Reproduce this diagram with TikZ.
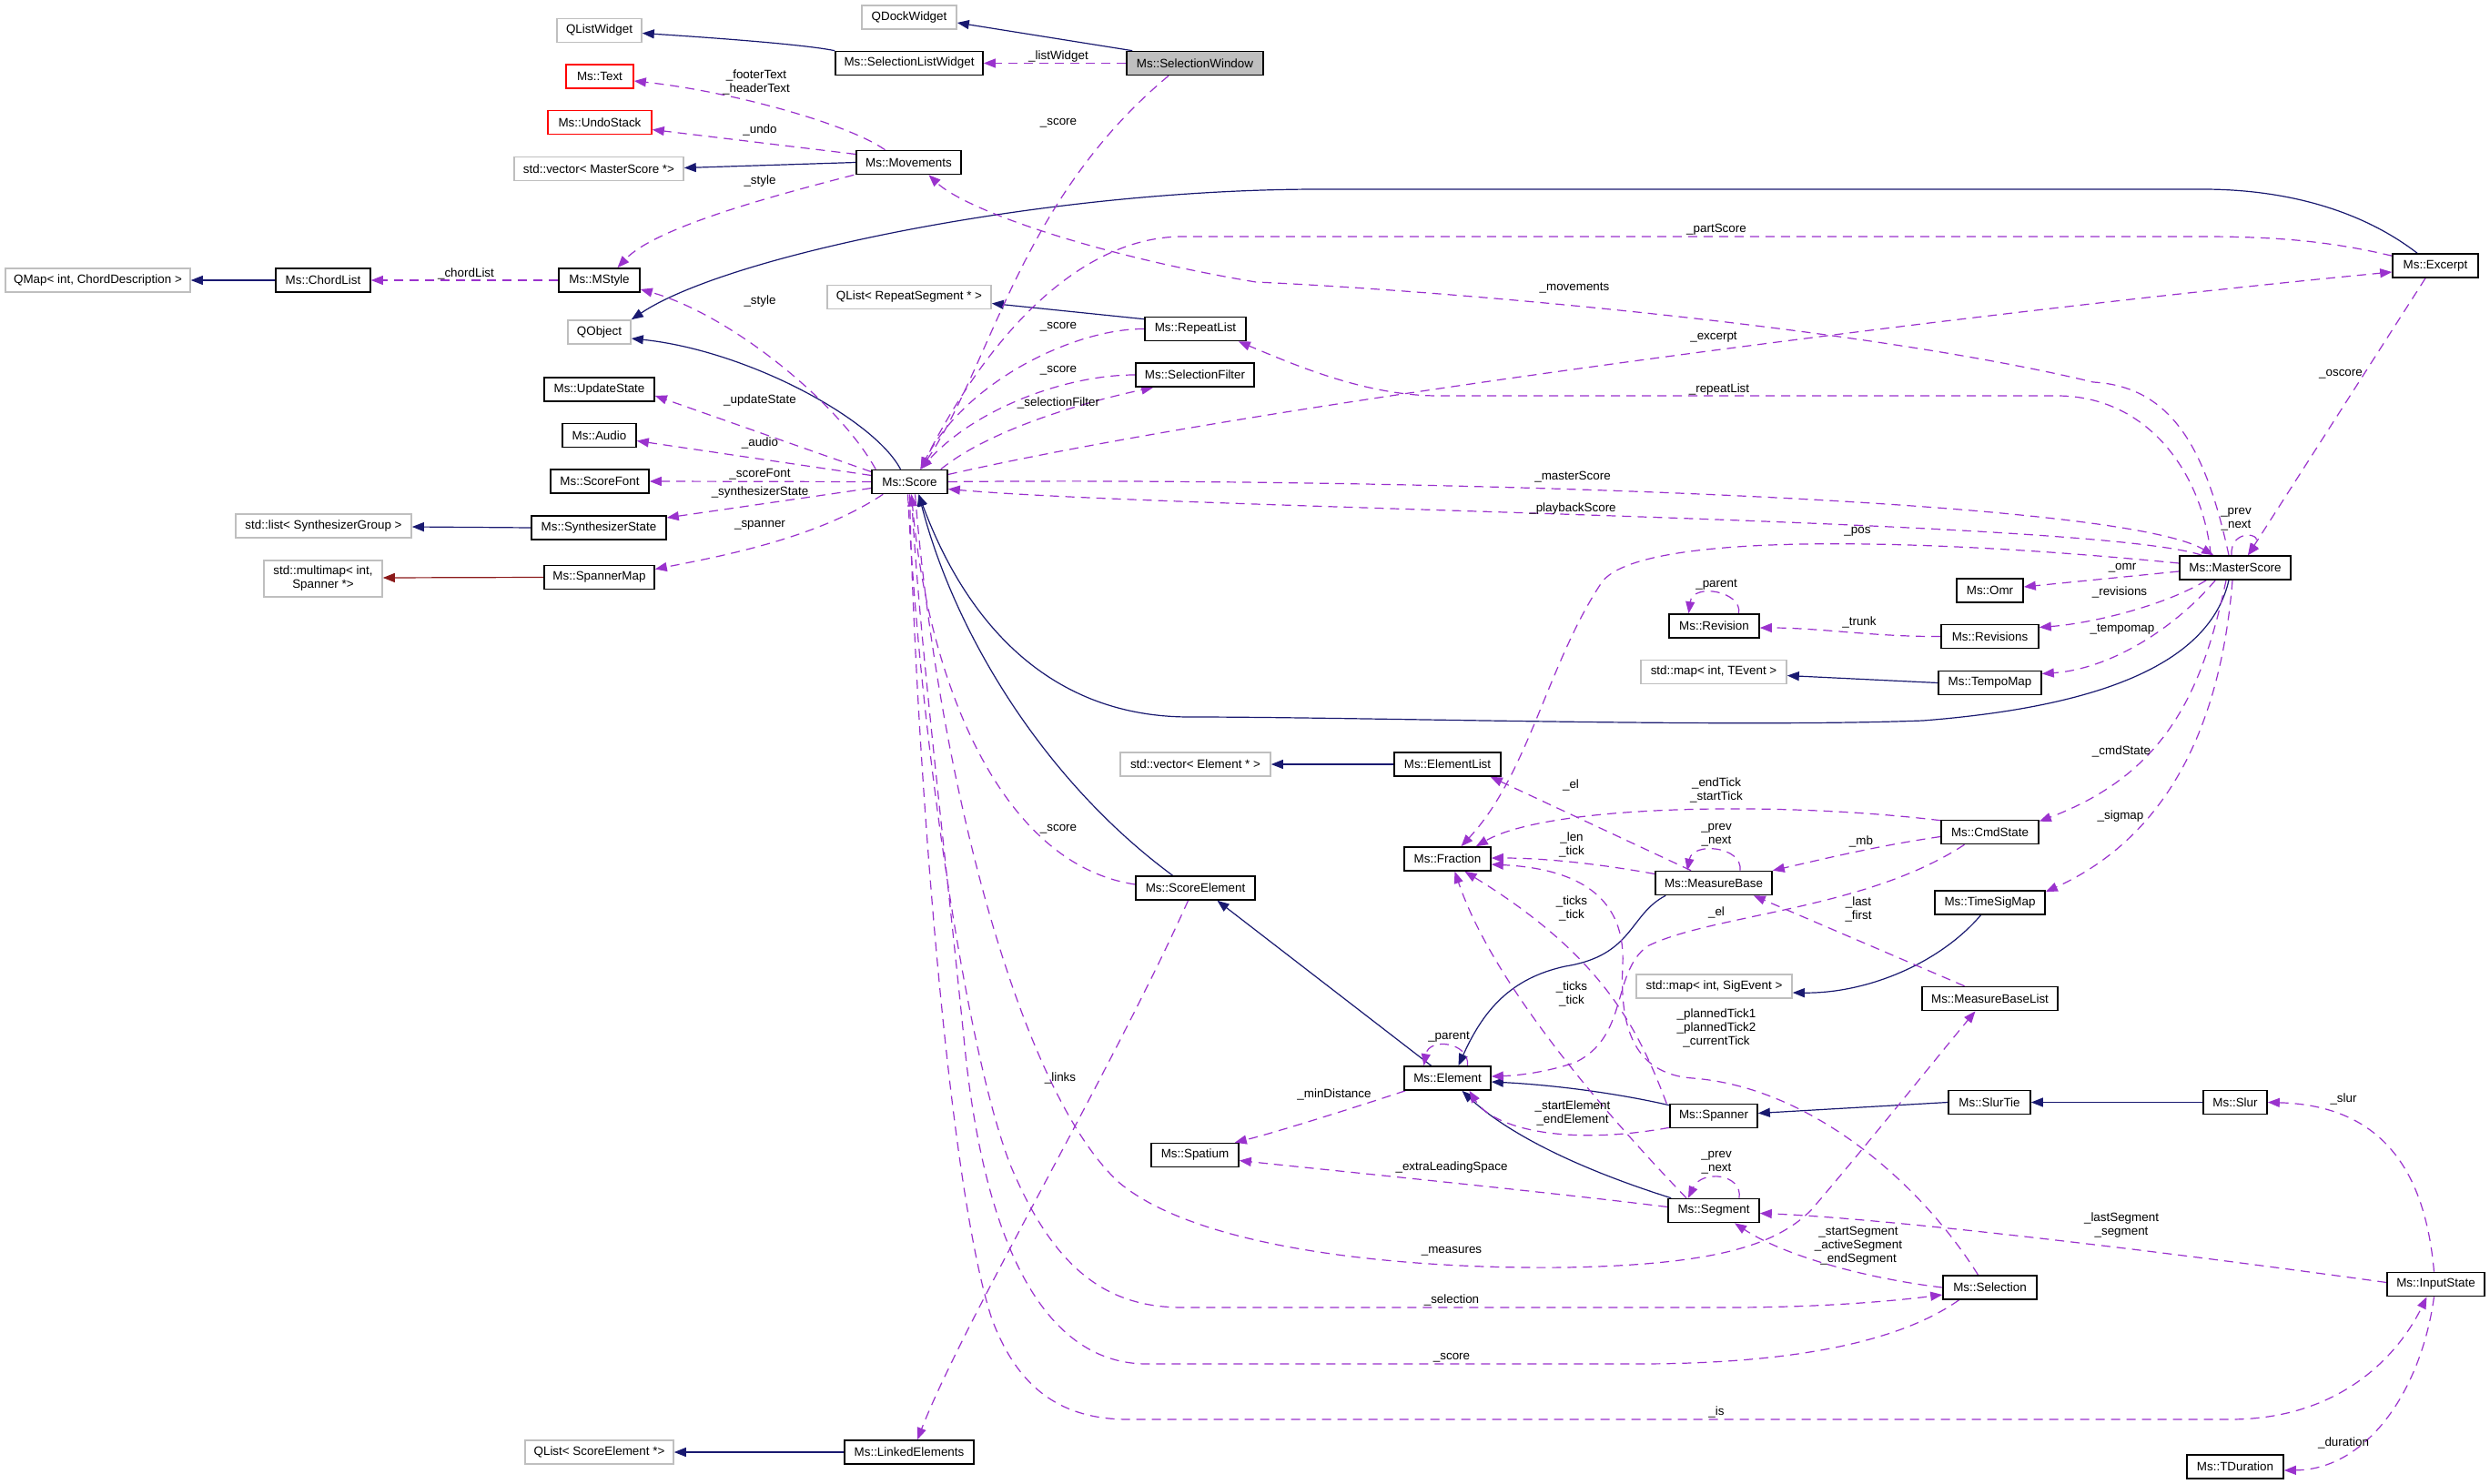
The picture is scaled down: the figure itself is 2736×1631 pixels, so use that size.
\documentclass[tikz,border=0pt]{standalone}
\usepackage{fontspec}
\newfontfamily\dxfam{Liberation Sans}
\newcommand\dxfont{\dxfam\fontsize{6.7}{7.5}\selectfont}
\usetikzlibrary{arrows.meta,calc}
\pgfdeclarelayer{bg}
\pgfsetlayers{bg,main}
\definecolor{inhcol}{HTML}{191970}
\definecolor{usecol}{HTML}{9A32CD}
\definecolor{tmplcol}{HTML}{8B1A1A}
\definecolor{boxgray}{HTML}{BFBFBF}
\definecolor{curgray}{HTML}{BFBFBF}
\begin{document}
\begin{tikzpicture}[x=0.5pt,y=-0.5pt,
  box/.style={draw=black, line width=0.8pt, fill=white, minimum height=13pt, inner sep=0pt, align=center, font=\dxfont},
  ext/.style={box, draw=boxgray},
  redbox/.style={box, draw=red},
  cur/.style={box, fill=curgray},
  inh/.style={draw=inhcol, line width=0.6pt, -{Triangle[length=6.5pt,width=5pt]}},
  tmpl/.style={draw=tmplcol, line width=0.6pt, -{Triangle[length=6.5pt,width=5pt]}},
  use/.style={draw=usecol, line width=0.6pt, dash pattern=on 5pt off 3.5pt, -{Triangle[length=6.5pt,width=5pt]}},
  lbl/.style={font=\dxfont, inner sep=0pt, align=center}]
\path[use as bounding box] (0,0) rectangle (2736,1631);
% ---------------- nodes
\node[ext, minimum width=52pt] (qdock) at (999,19) {QDockWidget};
\node[ext, minimum width=46.5pt] (qlist) at (658.5,33.5) {QListWidget};
\node[box, minimum width=81pt] (slw) at (999,69.5) {Ms::SelectionListWidget};
\node[cur, minimum width=75pt] (selwin) at (1313,69.5) {Ms::SelectionWindow};
\node[redbox, minimum width=37pt] (text) at (659,84) {Ms::Text};
\node[redbox, minimum width=57pt] (undo) at (659,134.5) {Ms::UndoStack};
\node[ext, minimum width=93pt] (vecms) at (658,185.5) {std::vector< MasterScore *>};
\node[box, minimum width=57.5pt] (mov) at (998.5,178.5) {Ms::Movements};
\node[box, minimum width=44.5pt] (mstyle) at (658.5,308) {Ms::MStyle};
\node[box, minimum width=52pt] (chord) at (355,308) {Ms::ChordList};
\node[ext, minimum width=101.5pt] (qmap) at (107.5,308) {QMap< int, ChordDescription >};
\node[ext, minimum width=34.5pt] (qobj) at (658.5,365) {QObject};
\node[ext, minimum width=90pt] (qlrs) at (999,326.5) {QList< RepeatSegment * >};
\node[box, minimum width=55.5pt] (rep) at (1313.5,361.5) {Ms::RepeatList};
\node[box, minimum width=65pt] (sf) at (1313,412) {Ms::SelectionFilter};
\node[box, minimum width=41.5pt] (score) at (999.5,529.5) {Ms::Score};
\node[box, minimum width=60.5pt] (upd) at (658.5,428) {Ms::UpdateState};
\node[box, minimum width=40.5pt] (audio) at (658.5,478.5) {Ms::Audio};
\node[box, minimum width=54pt] (sfont) at (659,529) {Ms::ScoreFont};
\node[box, minimum width=74pt] (synth) at (658,580) {Ms::SynthesizerState};
\node[ext, minimum width=96.5pt] (lsg) at (355.5,578) {std::list< SynthesizerGroup >};
\node[box, minimum width=60.5pt] (spmap) at (658.5,634.5) {Ms::SpannerMap};
\node[ext, minimum width=65pt, minimum height=20pt] (mmap) at (355,636) {std::multimap< int,\\Spanner *>};
\node[box, minimum width=47pt] (excerpt) at (2676,292) {Ms::Excerpt};
\node[box, minimum width=61pt] (master) at (2456,624) {Ms::MasterScore};
\node[box, minimum width=36.5pt] (omr) at (2186.5,649) {Ms::Omr};
\node[box, minimum width=53.5pt] (revs) at (2186.5,699.5) {Ms::Revisions};
\node[box, minimum width=49.5pt] (rev) at (1883.5,688) {Ms::Revision};
\node[box, minimum width=56.5pt] (tmap) at (2186.5,750.5) {Ms::TempoMap};
\node[ext, minimum width=80pt] (mte) at (1883,738.5) {std::map< int, TEvent >};
\node[ext, minimum width=82.5pt] (vel) at (1313.5,840) {std::vector< Element * >};
\node[box, minimum width=58.5pt] (elist) at (1590.5,840) {Ms::ElementList};
\node[box, minimum width=47.5pt] (frac) at (1590.5,944) {Ms::Fraction};
\node[box, minimum width=64pt] (mb) at (1883,970.5) {Ms::MeasureBase};
\node[box, minimum width=65.5pt] (se) at (1313.5,976) {Ms::ScoreElement};
\node[box, minimum width=53.5pt] (cmd) at (2186.5,914.5) {Ms::CmdState};
\node[box, minimum width=60.5pt] (tsm) at (2186.5,992) {Ms::TimeSigMap};
\node[ext, minimum width=85.5pt] (mse) at (1883.5,1084) {std::map< int, SigEvent >};
\node[box, minimum width=74.5pt] (mbl) at (2186.5,1097.5) {Ms::MeasureBaseList};
\node[box, minimum width=47.5pt] (elem) at (1590.5,1185) {Ms::Element};
\node[box, minimum width=48pt] (spanner) at (1883,1226.5) {Ms::Spanner};
\node[box, minimum width=45pt] (slurtie) at (2186,1211.5) {Ms::SlurTie};
\node[box, minimum width=35pt] (slur) at (2456,1211.5) {Ms::Slur};
\node[box, minimum width=48pt] (spatium) at (1313,1269.5) {Ms::Spatium};
\node[box, minimum width=50pt] (seg) at (1883,1330.5) {Ms::Segment};
\node[box, minimum width=51.5pt] (selection) at (2186.5,1415) {Ms::Selection};
\node[box, minimum width=53.5pt] (input) at (2676.5,1411.5) {Ms::InputState};
\node[box, minimum width=53pt] (tdur) at (2456,1612) {Ms::TDuration};
\node[ext, minimum width=81.5pt] (qlse) at (658.5,1596) {QList< ScoreElement *>};
\node[box, minimum width=71pt] (linked) at (999,1596) {Ms::LinkedElements};
% ---------------- edges
\begin{pgfonlayer}{bg}
\fill[white] (0,0) rectangle (2736,1631);
% inheritance
\draw[inh] ($(selwin.north west)+(7,0)$) -- ($(qdock.east)+(0,6)$);
\draw[inh] (slw.north west) .. controls (880,48) and (760,40) .. ($(qlist.east)+(0,3)$);
\draw[inh] (mov.west) -- ($(vecms.east)+(0,-1)$);
\draw[inh] (chord.west) -- (qmap.east);
\draw[inh] ($(score.north)+(-10,0)$) .. controls (960,460) and (820,385) .. ($(qobj.east)+(0,7)$);
\draw[inh] ($(excerpt.north)+(-20,0)$) .. controls (2600,235) and (2520,208) .. (2420,208) -- (1450,208) .. controls (1150,208) and (800,280) .. (qobj.north east);
\draw[inh] ($(rep.north west)+(0,3)$) -- ($(qlrs.east)+(0,7)$);
\draw[inh] (synth.west) -- ($(lsg.east)+(0,1)$);
\draw[tmpl] (spmap.west) -- ($(mmap.east)+(0,-1)$);
\draw[inh] ($(master.south)+(-7,0)$) .. controls (2430,720) and (2330,775) .. (2113,792) .. controls (1900,800) and (1500,788) .. (1307,788) .. controls (1150,788) and (1060,680) .. ($(score.south)+(10,0)$);
\draw[inh] ($(se.north)+(-25,0)$) .. controls (1150,860) and (1050,700) .. ($(score.south)+(10,0)$);
\draw[inh] (tmap.west) -- ($(mte.east)+(0,4)$);
\draw[inh] (elist.west) -- (vel.east);
\draw[inh] ($(elem.north)+(-18,0)$) -- ($(se.south)+(24,0)$);
\draw[inh] ($(mb.south west)+(12,0)$) .. controls (1790,1005) and (1795,1050) .. (1720,1062) .. controls (1660,1075) and (1630,1110) .. ($(elem.north)+(12,0)$);
\draw[inh] ($(tsm.south)+(-10,0)$) .. controls (2130,1060) and (2050,1092) .. ($(mse.east)+(0,7)$);
\draw[inh] ($(spanner.north west)+(0,2)$) .. controls (1770,1200) and (1700,1192) .. ($(elem.east)+(0,4)$);
\draw[inh] ($(seg.north west)+(4,0)$) .. controls (1720,1280) and (1650,1240) .. ($(elem.south)+(16,0)$);
\draw[inh] (slurtie.west) -- ($(spanner.east)+(0,-3)$);
\draw[inh] (slur.west) -- (slurtie.east);
\draw[inh] (linked.west) -- (qlse.east);
% usage
\draw[use] (selwin.west) -- (slw.east);
\draw[use] ($(mov.north)+(-26,0)$) .. controls (930,135) and (800,100) .. ($(text.east)+(0,5)$);
\draw[use] ($(mov.west)+(0,-9)$) -- ($(undo.east)+(0,8)$);
\draw[use] ($(mov.south west)+(-2,0)$) .. controls (850,215) and (720,250) .. ($(mstyle.north)+(20,0)$);
\draw[use] (mstyle.west) -- (chord.east);
\draw[use] ($(score.north west)+(5,0)$) .. controls (920,440) and (800,345) .. ($(mstyle.east)+(0,10)$);
\draw[use] ($(selwin.south)+(-29,0)$) .. controls (1120,220) and (1090,400) .. ($(score.north)+(12,0)$);
\draw[use] ($(excerpt.north west)+(0,3)$) .. controls (2560,265) and (2500,260) .. (2420,260) -- (1300,260) .. controls (1180,260) and (1080,380) .. ($(score.north)+(12,0)$);
\draw[use] (rep.west) .. controls (1180,361) and (1060,420) .. ($(score.north)+(12,0)$);
\draw[use] (sf.west) .. controls (1170,412) and (1070,450) .. ($(score.north)+(12,0)$);
\draw[use] ($(score.north east)+(-8,0)$) .. controls (1090,470) and (1200,440) .. ($(sf.south west)+(20,0)$);
\draw[use] ($(score.east)+(0,-8)$) .. controls (1400,440) and (2200,340) .. ($(excerpt.west)+(0,7)$);
\draw[use] (score.east) .. controls (1500,525) and (2320,545) .. ($(master.north west)+(38,0)$);
\draw[use] ($(master.north west)+(25,0)$) .. controls (2300,570) and (1300,560) .. ($(score.east)+(0,8)$);
\draw[use] ($(master.north)+(-7,0)$) .. controls (2425,500) and (2390,425) .. (2300,420) .. controls (2050,360) and (1600,320) .. (1380,310) .. controls (1200,280) and (1060,230) .. ($(mov.south)+(22,0)$);
\draw[use] ($(master.north west)+(35,0)$) .. controls (2420,520) and (2360,435) .. (2260,435) -- (1580,435) .. controls (1500,435) and (1420,400) .. ($(rep.south east)+(-9,0)$);
\draw[use] ($(master.west)+(0,-5)$) .. controls (2100,590) and (1800,585) .. (1760,640) .. controls (1700,730) and (1680,850) .. ($(frac.north)+(15,0)$);
\draw[use] ($(master.west)+(0,4)$) -- ($(omr.east)+(0,-4)$);
\draw[use] ($(master.south west)+(30,0)$) .. controls (2380,665) and (2300,685) .. ($(revs.east)+(0,-10)$);
\draw[use] (revs.west) .. controls (2060,700) and (2000,690) .. ($(rev.east)+(0,2)$);
\draw[use] ($(rev.north)+(27,0)$) .. controls (1915,650) and (1860,640) .. ($(rev.north)+(-28,0)$);
\draw[use] ($(master.south west)+(40,0)$) .. controls (2390,690) and (2320,735) .. ($(tmap.east)+(0,-10)$);
\draw[use] ($(master.north)+(-4,0)$) .. controls (2450,580) and (2490,585) .. ($(master.north)+(14,0)$);
\draw[use] ($(excerpt.south)+(-11,0)$) -- ($(master.north)+(14,0)$);
\draw[use] ($(master.south)+(-10,0)$) .. controls (2420,760) and (2380,850) .. ($(cmd.north east)+(0,2)$);
\draw[use] ($(master.south)+(-3,0)$) .. controls (2440,800) and (2380,920) .. ($(tsm.north east)+(0,2)$);
\draw[use] ($(se.west)+(0,-4)$) .. controls (1100,950) and (1020,750) .. ($(score.south)+(2,0)$);
\draw[use] ($(se.south)+(-8,0)$) .. controls (1220,1180) and (1060,1450) .. ($(linked.north)+(9,0)$);
\draw[use] ($(mb.west)+(0,-10)$) .. controls (1760,950) and (1700,943) .. ($(frac.east)+(0,-1)$);
\draw[use] ($(mb.north)+(-25,0)$) -- ($(elist.south east)+(-12,0)$);
\draw[use] ($(mb.north)+(29,0)$) .. controls (1915,930) and (1860,925) .. ($(mb.north)+(-29,0)$);
\draw[use] ($(cmd.north west)+(0,1)$) .. controls (1950,880) and (1700,885) .. ($(frac.north east)+(-17,0)$);
\draw[use] ($(cmd.west)+(0,5)$) .. controls (2060,930) and (2000,945) .. (mb.north east);
\draw[use] ($(cmd.south)+(-28,0)$) .. controls (2050,1000) and (1880,1005) .. (1810,1040) .. controls (1770,1070) and (1790,1140) .. (1730,1168) .. controls (1700,1178) and (1670,1182) .. ($(elem.east)+(0,-2)$);
\draw[use] ($(mbl.north)+(-28,0)$) -- ($(mb.south east)+(-21,0)$);
\draw[use] ($(elem.north)+(22,0)$) .. controls (1615,1145) and (1570,1140) .. ($(elem.north)+(-26,0)$);
\draw[use] ($(elem.south west)+(2,0)$) .. controls (1480,1220) and (1400,1245) .. ($(spatium.north east)+(-5,0)$);
\draw[use] ($(spanner.south west)+(0,-1)$) .. controls (1720,1260) and (1640,1240) .. ($(elem.south)+(24,0)$);
\draw[use] ($(spanner.north west)+(-3,0)$) .. controls (1800,1130) and (1760,1050) .. ($(frac.south)+(19,0)$);
\draw[use] ($(seg.north)+(-30,0)$) .. controls (1760,1220) and (1640,1080) .. ($(frac.south)+(8,0)$);
\draw[use] ($(seg.north)+(28,0)$) .. controls (1915,1290) and (1870,1285) .. ($(seg.north)+(-28,0)$);
\draw[use] ($(seg.west)+(0,-4)$) .. controls (1700,1310) and (1450,1285) .. ($(spatium.east)+(0,6)$);
\draw[use] (selection.west) .. controls (2050,1405) and (1960,1380) .. ($(seg.south)+(23,0)$);
\draw[use] ($(input.west)+(0,-2)$) .. controls (2300,1365) and (2050,1338) .. ($(seg.east)+(0,3)$);
\draw[use] ($(selection.north)+(-13,0)$) .. controls (2110,1300) and (1990,1195) .. (1860,1185) .. controls (1790,1180) and (1780,1120) .. (1783,1060) .. controls (1786,990) and (1740,955) .. ($(frac.east)+(0,6)$);
\draw[use] ($(selection.south)+(-34,0)$) .. controls (2080,1480) and (1950,1499) .. (1800,1499) -- (1260,1499) .. controls (1140,1499) and (1080,1350) .. (1060,1150) .. controls (1040,950) and (1010,700) .. ($(score.south)+(2,0)$);
\draw[use] ($(score.south)+(-2,0)$) .. controls (1010,800) and (1060,1150) .. (1110,1280) .. controls (1160,1400) and (1220,1437) .. (1300,1437) -- (1900,1437) .. controls (2000,1437) and (2080,1430) .. ($(selection.west)+(0,8)$);
\draw[use] (score.south) .. controls (1005,800) and (1040,1300) .. (1090,1450) .. controls (1120,1530) and (1170,1560) .. (1240,1560) -- (2450,1560) .. controls (2580,1560) and (2640,1480) .. ($(input.south)+(-10,0)$);
\draw[use] ($(score.south)+(6,0)$) .. controls (1030,850) and (1120,1200) .. (1230,1300) .. controls (1320,1375) and (1550,1395) .. (1720,1393) .. controls (1880,1390) and (1950,1370) .. (1990,1330) .. controls (2050,1260) and (2130,1160) .. ($(mbl.south)+(-16,0)$);
\draw[use] ($(input.north)+(-2,0)$) .. controls (2665,1290) and (2620,1215) .. (slur.east);
\draw[use] ($(input.south)+(-2,0)$) .. controls (2660,1530) and (2600,1615) .. ($(tdur.east)+(0,4)$);
\draw[use] ($(score.west)+(0,-11)$) -- ($(upd.east)+(0,7)$);
\draw[use] ($(score.west)+(0,-7)$) -- ($(audio.east)+(0,6)$);
\draw[use] (score.west) -- (sfont.east);
\draw[use] ($(score.west)+(0,7)$) -- ($(synth.east)+(0,-11)$);
\draw[use] ($(score.south west)+(13,0)$) .. controls (900,590) and (800,610) .. ($(spmap.east)+(0,-9)$);
\end{pgfonlayer}
% ---------------- labels
\node[lbl] (l01) at (1163,62) {\_listWidget};
\node[lbl] (l02) at (831,90) {\_footerText\\\_headerText};
\node[lbl] (l03) at (835,143) {\_undo};
\node[lbl] (l04) at (835,199) {\_style};
\node[lbl] (l05) at (512,301) {\_chordList};
\node[lbl] (l06) at (835,331) {\_style};
\node[lbl] (l07) at (1163,135) {\_score};
\node[lbl] (l08) at (1886,252) {\_partScore};
\node[lbl] (l09) at (1730,317) {\_movements};
\node[lbl] (l10) at (1883,371) {\_excerpt};
\node[lbl] (l11) at (1163,359) {\_score};
\node[lbl] (l12) at (1163,407) {\_score};
\node[lbl] (l13) at (1163,443) {\_selectionFilter};
\node[lbl] (l14) at (1889,428) {\_repeatList};
\node[lbl] (l15) at (2572,411) {\_oscore};
\node[lbl] (l16) at (835,440) {\_updateState};
\node[lbl] (l17) at (835,487) {\_audio};
\node[lbl] (l18) at (835,521) {\_scoreFont};
\node[lbl] (l19) at (835,541) {\_synthesizerState};
\node[lbl] (l20) at (835,577) {\_spanner};
\node[lbl] (l21) at (1728,524) {\_masterScore};
\node[lbl] (l22) at (1728,559) {\_playbackScore};
\node[lbl] (l23) at (2457,571) {\_prev\\\_next};
\node[lbl] (l24) at (2041,584) {\_pos};
\node[lbl] (l25) at (2332,624) {\_omr};
\node[lbl] (l26) at (2329,651) {\_revisions};
\node[lbl] (l27) at (1886,643) {\_parent};
\node[lbl] (l28) at (2043,684) {\_trunk};
\node[lbl] (l29) at (2332,692) {\_tempomap};
\node[lbl] (l30) at (2331,826) {\_cmdState};
\node[lbl] (l31) at (1726,863) {\_el};
\node[lbl] (l32) at (1886,868) {\_endTick\\\_startTick};
\node[lbl] (l33) at (2330,897) {\_sigmap};
\node[lbl] (l34) at (1163,911) {\_score};
\node[lbl] (l35) at (1886,918) {\_prev\\\_next};
\node[lbl] (l36) at (1727,928) {\_len\\\_tick};
\node[lbl] (l37) at (2045,925) {\_mb};
\node[lbl] (l38) at (1727,998) {\_ticks\\\_tick};
\node[lbl] (l39) at (1886,1003) {\_el};
\node[lbl] (l40) at (2042,999) {\_last\\\_first};
\node[lbl] (l41) at (1727,1092) {\_ticks\\\_tick};
\node[lbl] (l42) at (1886,1130) {\_plannedTick1\\\_plannedTick2\\\_currentTick};
\node[lbl] (l43) at (1592,1140) {\_parent};
\node[lbl] (l44) at (1165,1185) {\_links};
\node[lbl] (l45) at (1466,1203) {\_minDistance};
\node[lbl] (l46) at (1728,1223) {\_startElement\\\_endElement};
\node[lbl] (l47) at (2575,1208) {\_slur};
\node[lbl] (l48) at (1886,1278) {\_prev\\\_next};
\node[lbl] (l49) at (1595,1283) {\_extraLeadingSpace};
\node[lbl] (l50) at (2331,1347) {\_lastSegment\\\_segment};
\node[lbl] (l51) at (2042,1369) {\_startSegment\\\_activeSegment\\\_endSegment};
\node[lbl] (l52) at (1595,1375) {\_measures};
\node[lbl] (l53) at (1595,1429) {\_selection};
\node[lbl] (l54) at (1595,1492) {\_score};
\node[lbl] (l55) at (1886,1552) {\_is};
\node[lbl] (l56) at (2575,1586) {\_duration};
\end{tikzpicture}
\end{document}
